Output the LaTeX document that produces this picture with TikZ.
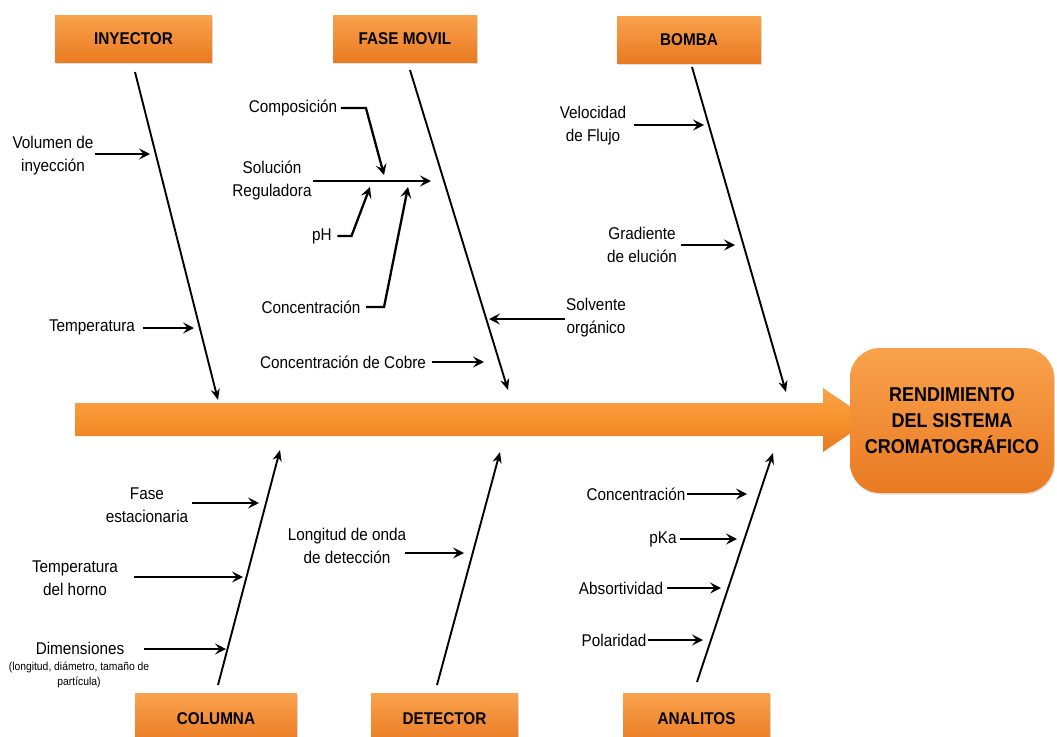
\documentclass[tikz,border=0pt]{standalone}
\usepackage{fontspec}
\setmainfont{Liberation Sans}[FakeStretch=0.9]
\usetikzlibrary{arrows.meta,shadows}
\definecolor{boxtop}{HTML}{F9A24C}
\definecolor{boxmid}{HTML}{F7922C}
\definecolor{boxbot}{HTML}{E97A22}
\begin{document}
\begin{tikzpicture}[x=1pt,y=-1pt,
  cat/.style={rectangle, inner sep=0pt, minimum height=47pt, top color=boxtop, bottom color=boxbot,
    font=\bfseries\fontsize{17}{20}\selectfont, drop shadow={opacity=0.25, shadow xshift=1pt, shadow yshift=-1.5pt}},
  lbl/.style={align=center, inner sep=1.5pt, font=\fontsize{17}{23}\selectfont},
  small/.style={align=center, inner sep=0pt, font=\fontsize{11.5}{15}\selectfont},
  spine/.style={line width=1.9pt, -{Stealth[length=11pt,width=9pt,inset=3.5pt]}},
  arr/.style={line width=2.3pt, -{Stealth[length=11pt,width=11pt,inset=4.5pt]}}]
\useasboundingbox (0,0) rectangle (1057,736);
\clip (0,0) rectangle (1057,736);
\fill[white] (0,0) rectangle (1057,736);

% main arrow
\shade[top color=boxtop, bottom color=boxbot, middle color=boxmid]
  (75,403) -- (823,403) -- (823,388) -- (870,420) -- (823,452) -- (823,436) -- (75,436) -- cycle;

% result box
\node[rectangle, rounded corners=30pt, minimum width=204pt, minimum height=145pt, inner sep=0pt,
  top color=boxtop, bottom color=boxbot, drop shadow={opacity=0.25, shadow xshift=1pt, shadow yshift=-1.5pt},
  align=center, font=\bfseries\fontsize{20}{26}\selectfont] (res) at (952,420.5)
  {RENDIMIENTO\\DEL SISTEMA\\CROMATOGRÁFICO};

% category boxes
\node[cat, minimum width=157pt] (iny) at (133.5,39) {INYECTOR};
\node[cat, minimum width=144pt] (fm) at (405,38.5) {FASE MOVIL};
\node[cat, minimum width=144pt] (bom) at (689,39.5) {BOMBA};
\node[cat, minimum width=162pt, minimum height=52pt] (col) at (216,719) {COLUMNA};
\node[cat, minimum width=147pt, minimum height=52pt] (det) at (444.5,719) {DETECTOR};
\node[cat, minimum width=147pt, minimum height=52pt] (ana) at (696.5,719) {ANALITOS};

% spine coordinates
\coordinate (inyS) at (135,72);  \coordinate (inyE) at (218,400);
\coordinate (fmS) at (410,70);   \coordinate (fmE) at (508,390);
\coordinate (bomS) at (692,67);  \coordinate (bomE) at (786,392);
\coordinate (colS) at (218,685); \coordinate (colE) at (280,450);
\coordinate (detS) at (437,685); \coordinate (detE) at (500,452);
\coordinate (anaS) at (697,682); \coordinate (anaE) at (773,453);

\draw[spine] (inyS) -- (inyE);
\draw[spine] (fmS) -- (fmE);
\draw[spine] (bomS) -- (bomE);
\draw[spine] (colS) -- (colE);
\draw[spine] (detS) -- (detE);
\draw[spine] (anaS) -- (anaE);

% INYECTOR causes
\node[lbl] (vol) at (53,156) {Volumen de\\inyección};
\coordinate (volT) at (150,154);
\draw[arr] (vol.east |- volT) -- (volT);
\node[lbl] (tem) at (92,327) {Temperatura};
\coordinate (temT) at (194,328);
\draw[arr] ([xshift=6pt]tem.east |- temT) -- (temT);

% FASE MOVIL causes
\node[lbl] (sol) at (272,181) {Solución\\Reguladora};
\coordinate (solT) at (431,181);
\draw[arr] (sol.east |- solT) -- (solT);
\node[lbl] (comp) at (293,108) {Composición};
\coordinate (compT) at (384,175);
\draw[arr] ([xshift=2pt]comp.east) -- ++(25,0) -- (compT);
\node[lbl] (ph) at (322,236) {pH};
\coordinate (phT) at (370,187);
\draw[arr] ([xshift=4pt]ph.east) -- ++(14,0) -- (phT);
\node[lbl] (con) at (311,307) {Concentración};
\coordinate (conT) at (408,187);
\draw[arr] ([xshift=4pt]con.east) -- ++(18,0) -- (conT);
\node[lbl] (cob) at (343,362) {Concentración de Cobre};
\coordinate (cobT) at (484,362);
\draw[arr] ([xshift=4pt]cob.east) -- (cobT);
\node[lbl] (solv) at (596,318) {Solvente\\orgánico};
\coordinate (solvT) at (489,319);
\draw[arr] (solv.west |- solvT) -- (solvT);

% BOMBA causes
\node[lbl] (vel) at (593,126) {Velocidad\\de Flujo};
\coordinate (velT) at (704,125);
\draw[arr] ([xshift=6pt]vel.east |- velT) -- (velT);
\node[lbl] (gra) at (642,245) {Gradiente\\de elución};
\coordinate (graT) at (735,245);
\draw[arr] ([xshift=2pt]gra.east |- graT) -- (graT);

% COLUMNA causes
\node[lbl] (fase) at (147,505) {Fase\\estacionaria};
\coordinate (faseT) at (259,503);
\draw[arr] ([xshift=2pt]fase.east |- faseT) -- (faseT);
\node[lbl] (tho) at (75,578) {Temperatura\\del horno};
\coordinate (thoT) at (243,577);
\draw[arr] ([xshift=14pt]tho.east |- thoT) -- (thoT);
\node[lbl] (dim) at (80,648) {Dimensiones};
\node[small] (dims) at (79,675) {(longitud, diámetro, tamaño de\\partícula)};
\coordinate (dimT) at (226,649);
\draw[arr] ([xshift=18pt]dim.east |- dimT) -- (dimT);

% DETECTOR causes
\node[lbl] (lon) at (347,546) {Longitud de onda\\de detección};
\coordinate (lonT) at (464,553);
\draw[arr] ([xshift=-3pt]lon.east |- lonT) -- (lonT);

% ANALITOS causes
\node[lbl, anchor=east] (con2) at (687,494) {Concentración};
\coordinate (con2T) at (747,494);
\draw[arr] (con2.east) -- (con2T);
\node[lbl] (pka) at (663,539) {pKa};
\coordinate (pkaT) at (737,539);
\draw[arr] ([xshift=2pt]pka.east) -- (pkaT);
\node[lbl] (abs) at (621,588) {Absortividad};
\coordinate (absT) at (721,588);
\draw[arr] ([xshift=2pt]abs.east) -- (absT);
\node[lbl] (pol) at (614,640) {Polaridad};
\coordinate (polT) at (703,640);
\draw[arr] (pol.east) -- (polT);
\end{tikzpicture}
\end{document}
